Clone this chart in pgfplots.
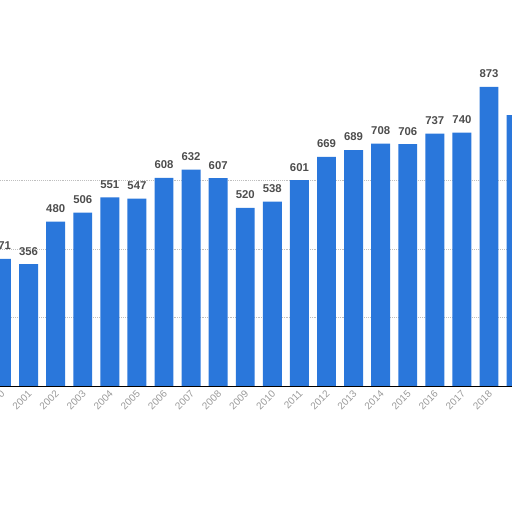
\documentclass[border=0pt]{standalone}
\usepackage{pgfplots}
\pgfplotsset{compat=1.18}
\usepackage{fontspec}
\setmainfont{Liberation Sans}
\definecolor{barblue}{HTML}{2A77DB}
\definecolor{labelgray}{HTML}{4D4D4D}
\definecolor{tickgray}{HTML}{9A9A9A}
\begin{document}
\begin{tikzpicture}
\begin{axis}[
    name=ax,
    scale only axis,
    width=384pt, height=289.5pt,
    xmin=-0.055, xmax=18.85,
    ymin=0, ymax=1127,
    enlargelimits=false,
    axis x line*=bottom,
    axis y line*=left,
    y axis line style={draw=none},
    x axis line style={black, line width=0.6pt},
    major tick length=0pt,
    ybar, bar width=0.70,
    ytick={200,400,600},
    yticklabels={},
    ymajorgrids,
    grid style={densely dotted, black!25, line width=0.4pt},
    xtick={0,...,18},
    xticklabels={2000,2001,2002,2003,2004,2005,2006,2007,2008,2009,2010,2011,2012,2013,2014,2015,2016,2017,2018},
    xticklabel style={rotate=45, anchor=east, yshift=-4pt, xshift=1pt,
        font=\fontsize{7.5}{7.5}\selectfont, text=tickgray},
    /pgf/number format/assume math mode=true,
    nodes near coords,
    every node near coord/.append style={anchor=south, inner sep=0pt, yshift=6.5pt,
        font=\bfseries\fontsize{8.5}{8.5}\selectfont, text=labelgray},
]
\addplot[fill=barblue, draw=none] coordinates {
    (0,371) (1,356) (2,480) (3,506) (4,551) (5,547) (6,608) (7,632)
    (8,607) (9,520) (10,538) (11,601) (12,669) (13,689) (14,708)
    (15,706) (16,737) (17,740) (18,873) (19,791)};
\end{axis}
\pgfresetboundingbox
\path[use as bounding box] ([yshift=-94.5pt]ax.south west) rectangle (ax.north east);
\end{tikzpicture}
\end{document}
